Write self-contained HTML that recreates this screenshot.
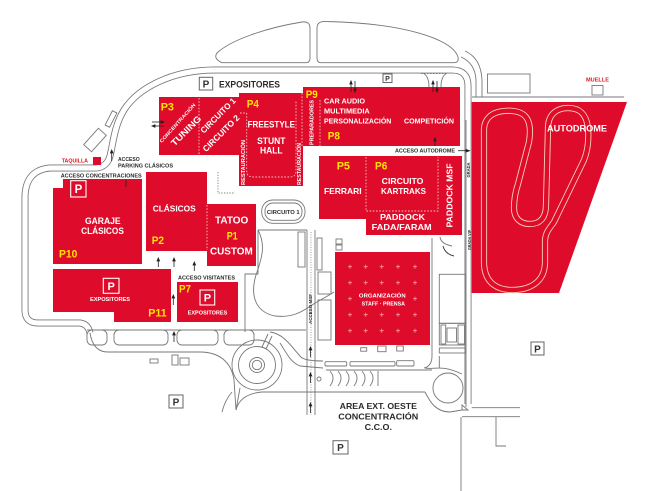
<!DOCTYPE html>
<html><head><meta charset="utf-8"><style>
html,body{margin:0;padding:0;background:#fff;}
svg{display:block;}
text{font-family:"Liberation Sans",sans-serif;font-weight:bold;}
</style></head><body>
<svg width="650" height="491" viewBox="0 0 650 491" xmlns="http://www.w3.org/2000/svg">
<rect width="650" height="491" fill="#fff"/>

<!-- ROADS (double line via stroke trick) -->
<g fill="none" stroke-linejoin="round" stroke-linecap="butt">
<path id="mainroad" d="M468,404 L468,86 Q468,70 452,70 L215,70 C172,70 138,88 124,110 C114,126 113,145 110,156 Q107,167 96,168 L50,168 Q26,170 25,196 L25,310 Q25,323 38,323 L80,323 Q88,324 90,333" stroke="#777" stroke-width="7"/>
<path d="M468,404 L468,86 Q468,70 452,70 L215,70 C172,70 138,88 124,110 C114,126 113,145 110,156 Q107,167 96,168 L50,168 Q26,170 25,196 L25,310 Q25,323 38,323 L80,323 Q88,324 90,333" stroke="#fff" stroke-width="5.3"/>
</g>

<g fill="none" stroke="#777" stroke-width="0.9">
<!-- top lots -->
<path d="M222,62.7 L306,62.7 Q310,62.7 310,58 L310,28 Q310,21 302,22 C265,28 232,40 218,52 Q212,58 222,62.7 Z"/>
<path d="M321,62.7 L454,62.7 Q459,62.7 458,57 C452,38 400,23 326,21.5 Q317,21 317,28 L317,58 Q317,62.7 321,62.7 Z"/>
<!-- top right road branch -->
<path d="M476,97 L476,80 Q475,63 461,57"/>
<path d="M482,97 L482,80 Q481,58 465,51"/>
<path d="M472,97 L624,97"/>
<rect x="487.5" y="74" width="42.5" height="19"/>
<rect x="592" y="85.5" width="11" height="9.5"/>
<!-- entry curves at P8 top -->
<path d="M423,73 Q429,76 429,87"/>
<path d="M447,73 Q441,76 441,87"/>
<path d="M421,73.5 L448,73.5" stroke-dasharray="1.5 1.5"/>
<!-- taquilla rotated rects -->
<rect x="-2.5" y="-8" width="5" height="16" transform="translate(111,119) rotate(27)"/>
<rect x="-5.3" y="-11" width="10.6" height="22" transform="translate(95,140) rotate(42)"/>
<!-- dotted L near P4 -->
<path d="M218,172 L218,193 L235,193" stroke-dasharray="1.2 1.5"/>

<!-- bay row bottom left -->
<path d="M87,330 L255,330"/>
<rect x="87" y="330" width="20" height="15" rx="5"/>
<rect x="114" y="330" width="54" height="15" rx="5"/>
<rect x="177" y="330" width="41" height="15" rx="5"/>
<rect x="224" y="330" width="30" height="15" rx="5"/>
<path d="M90,333 Q93,352 108,352 L200,352 C222,352 232,365 234,380 L236,410"/>
<path d="M236,410 Q240,394 262,392 L425,392"/>
<rect x="150" y="359" width="8" height="4"/>
<rect x="172" y="355" width="6" height="10"/>
<rect x="180" y="358" width="9" height="7"/>

<!-- roundabout 1 -->
<circle cx="257" cy="365" r="25"/>
<circle cx="257" cy="365" r="18.5"/>
<circle cx="257" cy="365" r="7.5"/>
<circle cx="257" cy="365" r="4.7"/>
<path d="M262,347 L268,334"/>
<path d="M266,349 L272,336"/>
<path d="M245,330 L306,330"/>
<path d="M270,332 C285,334 292,348 301,357 Q305,361 323,361"/>
<path d="M280,343 C286,352 290,362 300,366 L323,368"/>
<path d="M240,388 L236,410"/>
<path d="M232,392 Q225,400 222,412"/>
<!-- east road bays -->
<path d="M326,370 L432,370"/>
<path d="M330,371 Q336,378 330,386 M338,371 Q344,378 338,386 M346,371 Q352,378 346,386 M354,371 Q360,378 354,386 M362,371 Q368,378 362,386 M370,371 Q376,378 370,386"/>
<path d="M378,371 L378,386"/>
<circle cx="319" cy="379" r="2"/>

<!-- roundabout 2 -->
<circle cx="448" cy="388" r="15"/>
<path d="M425,368 C436,370 440,364 462,374"/>
<path d="M425,392 C430,402 436,412 450,412 L462,410"/>
<path d="M462,416.7 L520,416.7"/>
<path d="M471.7,407.7 L520,407.7"/>
<path d="M462,405 L468,410 L462,410 Z"/>
<path d="M461,417 L461,491"/>
<path d="M496,417 L496,446 L506,446"/>

<!-- acceso msf road -->
<path d="M307,230 L307,415"/>
<path d="M315,230 L315,415"/>
<path d="M311,232 L311,415" stroke-dasharray="1 1.5" stroke-width="0.7"/>
<!-- blob -->
<path d="M258,230 L307,230"/>
<path d="M258,230 C266,245 262,258 256,275 C250,295 255,312 275,316 C292,318 302,312 312,305 C320,300 328,296 334,292"/>
<path d="M258,230 L258,274 L245,274 L245,332"/>
<rect x="298" y="232" width="7" height="35"/>
<rect x="317" y="238" width="5" height="32"/>
<rect x="318" y="272" width="13" height="22"/>
<rect x="318" y="300" width="13" height="40"/>
<rect x="336" y="239" width="6" height="5"/>
<rect x="336" y="245" width="6" height="5"/>
<!-- circuito 1 -->
<rect x="261.7" y="200" width="43.3" height="23.3" rx="11"/>
<rect x="265" y="203" width="37" height="17.3" rx="8"/>
<!-- below organizacion -->
<rect x="360.7" y="347.7" width="6" height="3.5"/>
<rect x="377.7" y="346" width="8.3" height="5.7"/>
<rect x="396.7" y="346" width="6.6" height="5"/>
<rect x="325" y="361.7" width="21.7" height="4.3" rx="1"/>
<rect x="350" y="361.7" width="45" height="4.3" rx="1"/>
<rect x="396.7" y="360.7" width="17.3" height="5.3" rx="1"/>
<!-- right of organizacion -->
<path d="M432,238 L432,356 Q432,366 424,368"/>
<path d="M440,237 Q441,244 452,246"/>
<path d="M443,246 Q445,254 454,256" stroke="#333"/>
<rect x="439.3" y="274.3" width="26.4" height="49"/>
<rect x="439.3" y="323.3" width="26.4" height="21.7"/>
<rect x="441" y="325" width="4.7" height="19"/>
<rect x="447" y="328" width="9.5" height="14"/>
<rect x="458" y="325" width="6.5" height="19"/>
<rect x="439.3" y="348" width="26.4" height="5"/>
<path d="M439.3,356 L439.3,368"/>
<path d="M466,120 L466,407"/>
</g>

<!-- RED BLOCKS -->
<g fill="#df0b2a">
<rect x="159" y="97" width="81" height="58"/>
<rect x="239" y="93" width="64" height="93"/>
<rect x="303" y="87" width="157" height="59"/>
<path d="M319,156 L462,156 L462,235 L366,235 L366,219 L319,219 Z"/>
<rect x="335" y="252" width="95" height="93"/>
<path d="M471.7,102 L627,102 L559,293 L471.7,293 Z"/>
<path d="M63,179 L142,179 L142,264 L53,264 L53,188 L63,188 Z"/>
<rect x="146" y="172" width="61" height="79"/>
<rect x="207" y="204" width="49" height="62"/>
<path d="M53,269 L171,269 L171,322 L114,322 L114,312 L53,312 Z"/>
<rect x="177" y="282" width="61" height="40"/>
<rect x="93" y="157" width="8" height="8"/>
</g>

<!-- autodrome track -->
<g fill="none" stroke-linejoin="round">
<path d="M484,130 L484,262 C484,285 500,290 512,290 C530,290 545,282 545,262 L545,242 C545,232 550,228 554,222 L584,160 C588,150 589,140 588,128 C586,112 578,108 568,108 C556,108 548,115 548,128 L546,205 C546,218 540,224 530,224 C520,224 514,218 514,208 C514,198 516,190 518,184 L529,142 C531,130 530,120 524,115 C518,110 506,110 498,112 C488,115 484,122 484,130 Z" stroke="#f6d2b4" stroke-width="6.2"/>
<path d="M484,130 L484,262 C484,285 500,290 512,290 C530,290 545,282 545,262 L545,242 C545,232 550,228 554,222 L584,160 C588,150 589,140 588,128 C586,112 578,108 568,108 C556,108 548,115 548,128 L546,205 C546,218 540,224 530,224 C520,224 514,218 514,208 C514,198 516,190 518,184 L529,142 C531,130 530,120 524,115 C518,110 506,110 498,112 C488,115 484,122 484,130 Z" stroke="#df0b2a" stroke-width="4.4"/>
</g>

<!-- dashed lines inside blocks -->
<g fill="none" stroke="#f7c2c2" stroke-width="0.9" stroke-dasharray="1.6 1.6">
<path d="M199,98 L199,155"/>
<path d="M246.7,113 L246.7,171 Q246.7,177 253,177 L290,177 Q296,177 296,171 L296,100"/>
<path d="M240,113 L246.7,113"/>
<path d="M302,90 L302,146"/>
<path d="M320,100 L320,146"/>
<path d="M366,157 L366,211 L438,211 L438,157"/>
<path d="M207,205 L207,250"/>
</g>

<!-- plus signs in organizacion -->
<g stroke="#f59aa3" stroke-width="0.8">
<path d="M348,266.7h4M350,264.7v4 M363.7,266.7h4M365.7,264.7v4 M379.7,266.7h4M381.7,264.7v4 M396,266.7h4M398,264.7v4 M413,266.7h4M415,264.7v4"/>
<path d="M348,282.7h4M350,280.7v4 M363.7,282.7h4M365.7,280.7v4 M379.7,282.7h4M381.7,280.7v4 M396,282.7h4M398,280.7v4 M413,282.7h4M415,280.7v4"/>
<path d="M348,298.7h4M350,296.7v4 M413,298.7h4M415,296.7v4"/>
<path d="M348,314.7h4M350,312.7v4 M363.7,314.7h4M365.7,312.7v4 M379.7,314.7h4M381.7,312.7v4 M396,314.7h4M398,312.7v4 M413,314.7h4M415,312.7v4"/>
<path d="M348,330.7h4M350,328.7v4 M363.7,330.7h4M365.7,328.7v4 M379.7,330.7h4M381.7,328.7v4 M396,330.7h4M398,328.7v4 M413,330.7h4M415,328.7v4"/>
</g>

<!-- P boxes gray -->
<g fill="#fff" stroke="#666" stroke-width="1">
<rect x="199.3" y="77.3" width="13.4" height="12.7"/>
<rect x="383" y="74" width="9" height="8.5"/>
<rect x="169" y="395" width="14" height="13"/>
<rect x="333" y="440.7" width="15" height="13.3"/>
<rect x="531" y="342" width="13" height="13"/>
</g>
<g fill="#333" text-anchor="middle">
<text x="206" y="87.6" font-size="10">P</text>
<text x="387.5" y="81" font-size="7">P</text>
<text x="176" y="405.3" font-size="10">P</text>
<text x="340.5" y="451.2" font-size="10">P</text>
<text x="537.5" y="352.3" font-size="10">P</text>
</g>
<!-- P boxes white -->
<g fill="none" stroke="#fff" stroke-width="1.1">
<rect x="70.7" y="180.7" width="15.3" height="16.3"/>
<rect x="103.3" y="278.3" width="15.7" height="15"/>
<rect x="200" y="290" width="14.7" height="15"/>
</g>
<g fill="#fff" text-anchor="middle">
<text x="78.4" y="193" font-size="11.5">P</text>
<text x="111.2" y="290" font-size="11">P</text>
<text x="207.4" y="301.7" font-size="11">P</text>
</g>

<!-- arrows -->
<g stroke="#222" stroke-width="0.8" fill="#222">
<path d="M158.3,267 V260"/><path d="M157,261 L158.3,258 L159.6,261Z"/>
<path d="M174,267 V260"/><path d="M172.7,261 L174,258 L175.3,261Z"/>
<path d="M194.3,271 V264"/><path d="M193,265 L194.3,262 L195.6,265Z"/>
<path d="M173.3,305 V297"/><path d="M172,298 L173.3,295 L174.6,298Z"/>
<path d="M111.7,161 V152"/><path d="M110.4,153 L111.7,150 L113,153Z"/>
<path d="M174,342 V334"/><path d="M172.7,335 L174,332 L175.3,335Z"/>
<path d="M310.5,357 V349"/><path d="M309.2,350 L310.5,347 L311.8,350Z"/>
<path d="M310.5,383 V375"/><path d="M309.2,376 L310.5,373 L311.8,376Z"/>
<path d="M310.5,413 V405"/><path d="M309.2,406 L310.5,403 L311.8,406Z"/>
<path d="M126,180 V187"/>
<path d="M435,146 V140"/><path d="M433.8,141 L435,138 L436.2,141Z"/>
<path d="M458,150.7 H467"/><path d="M466,149.4 L469.5,150.7 L466,152Z"/>
<path d="M152,122 H162"/><path d="M161,120.7 L164,122 L161,123.3Z"/>
<path d="M154,126 H164"/><path d="M155,124.7 L152,126 L155,127.3Z"/>
<path d="M351,92 V83"/><path d="M349.8,84 L351,81 L352.2,84Z"/>
<path d="M355,81 V90"/><path d="M353.8,89 L355,92 L356.2,89Z"/>
<path d="M433,92 V83"/><path d="M431.8,84 L433,81 L434.2,84Z"/>
<path d="M437,81 V90"/><path d="M435.8,89 L437,92 L438.2,89Z"/>
</g>

<!-- yellow P labels -->
<g fill="#ffe500" font-size="11" lengthAdjust="spacingAndGlyphs">
<text x="160.7" y="110.7" textLength="13.3" lengthAdjust="spacingAndGlyphs">P3</text>
<text x="246.7" y="107.3" textLength="12.3" lengthAdjust="spacingAndGlyphs">P4</text>
<text x="305.7" y="98" textLength="12" lengthAdjust="spacingAndGlyphs">P9</text>
<text x="327.7" y="139.7" textLength="12.3" lengthAdjust="spacingAndGlyphs">P8</text>
<text x="336.7" y="169.7" textLength="13.3" lengthAdjust="spacingAndGlyphs">P5</text>
<text x="375" y="169.7" textLength="12.3" lengthAdjust="spacingAndGlyphs">P6</text>
<text x="59" y="257.3" textLength="18.3" lengthAdjust="spacingAndGlyphs">P10</text>
<text x="151.7" y="244" textLength="12.3" lengthAdjust="spacingAndGlyphs">P2</text>
<text x="226.7" y="239.7" textLength="11" lengthAdjust="spacingAndGlyphs">P1</text>
<text x="148.3" y="316.7" textLength="18.3" lengthAdjust="spacingAndGlyphs">P11</text>
<text x="179" y="292.3" textLength="12" lengthAdjust="spacingAndGlyphs">P7</text>
</g>

<!-- white labels -->
<g fill="#fff">
<text transform="translate(177.5,123) rotate(-48)" text-anchor="middle" y="1.7" font-size="4.8" textLength="51" lengthAdjust="spacingAndGlyphs">CONCENTRACIÓN</text>
<text transform="translate(186,130.7) rotate(-45)" text-anchor="middle" y="3.2" font-size="9" textLength="38.7" lengthAdjust="spacingAndGlyphs">TUNING</text>
<text transform="translate(218,115.5) rotate(-45)" text-anchor="middle" y="3" font-size="8.5" textLength="46" lengthAdjust="spacingAndGlyphs">CIRCUITO 1</text>
<text transform="translate(221,133.3) rotate(-45)" text-anchor="middle" y="3" font-size="8.5" textLength="48" lengthAdjust="spacingAndGlyphs">CIRCUITO 2</text>
<text transform="translate(243.3,162.5) rotate(-90)" text-anchor="middle" y="1.8" font-size="5" textLength="45" lengthAdjust="spacingAndGlyphs">RESTAURACIÓN</text>
<text transform="translate(299.3,164) rotate(-90)" text-anchor="middle" y="1.8" font-size="5" textLength="42" lengthAdjust="spacingAndGlyphs">RESTAURACIÓN</text>
<text transform="translate(311.5,122.5) rotate(-90)" text-anchor="middle" y="1.8" font-size="5" textLength="45" lengthAdjust="spacingAndGlyphs">PREPARADORES</text>
<text x="271.3" y="127.6" text-anchor="middle" font-size="9" textLength="47.3" lengthAdjust="spacingAndGlyphs">FREESTYLE</text>
<text x="271.3" y="144.2" text-anchor="middle" font-size="9" textLength="28.3" lengthAdjust="spacingAndGlyphs">STUNT</text>
<text x="271.3" y="153.3" text-anchor="middle" font-size="9" textLength="22.7" lengthAdjust="spacingAndGlyphs">HALL</text>
<text x="324" y="103.6" font-size="7" textLength="41" lengthAdjust="spacingAndGlyphs">CAR AUDIO</text>
<text x="324" y="113.6" font-size="7" textLength="45.7" lengthAdjust="spacingAndGlyphs">MULTIMEDIA</text>
<text x="324" y="123.6" font-size="7" textLength="67.3" lengthAdjust="spacingAndGlyphs">PERSONALIZACIÓN</text>
<text x="404" y="123.6" font-size="7" textLength="50" lengthAdjust="spacingAndGlyphs">COMPETICIÓN</text>
<text x="342.8" y="193.8" text-anchor="middle" font-size="8.5" textLength="37.7" lengthAdjust="spacingAndGlyphs">FERRARI</text>
<text x="381.7" y="183.8" font-size="8.5" textLength="41.7" lengthAdjust="spacingAndGlyphs">CIRCUITO</text>
<text x="381" y="193.8" font-size="8.5" textLength="45" lengthAdjust="spacingAndGlyphs">KARTRAKS</text>
<text x="380" y="219.8" font-size="8.5" textLength="45" lengthAdjust="spacingAndGlyphs">PADDOCK</text>
<text x="371.7" y="229.8" font-size="8.5" textLength="60" lengthAdjust="spacingAndGlyphs">FADA/FARAM</text>
<text transform="translate(449.5,195.5) rotate(-90)" text-anchor="middle" y="3" font-size="8.5" textLength="64" lengthAdjust="spacingAndGlyphs">PADDOCK MSF</text>
<text x="382.3" y="297.3" text-anchor="middle" font-size="5.5" textLength="46.7" lengthAdjust="spacingAndGlyphs">ORGANIZACIÓN</text>
<text x="383.3" y="305.3" text-anchor="middle" font-size="5.5" textLength="43.3" lengthAdjust="spacingAndGlyphs">STAFF · PRENSA</text>
<text x="102.8" y="224" text-anchor="middle" font-size="9.5" textLength="35.7" lengthAdjust="spacingAndGlyphs">GARAJE</text>
<text x="102.5" y="234" text-anchor="middle" font-size="9.5" textLength="42.7" lengthAdjust="spacingAndGlyphs">CLÁSICOS</text>
<text x="152.7" y="211.4" font-size="8.5" textLength="43" lengthAdjust="spacingAndGlyphs">CLÁSICOS</text>
<text x="215" y="223.6" font-size="10" textLength="33.3" lengthAdjust="spacingAndGlyphs">TATOO</text>
<text x="210" y="254.6" font-size="10" textLength="42.7" lengthAdjust="spacingAndGlyphs">CUSTOM</text>
<text x="110" y="301" text-anchor="middle" font-size="5.3" textLength="40" lengthAdjust="spacingAndGlyphs">EXPOSITORES</text>
<text x="207.5" y="314.3" text-anchor="middle" font-size="5.3" textLength="39.7" lengthAdjust="spacingAndGlyphs">EXPOSITORES</text>
<text x="547" y="131.5" font-size="9" textLength="60" lengthAdjust="spacingAndGlyphs">AUTODROME</text>
</g>

<!-- dark labels -->
<g fill="#2a2a2a">
<text x="219" y="87.4" font-size="9.5" textLength="61" lengthAdjust="spacingAndGlyphs">EXPOSITORES</text>
<text x="395" y="152.6" font-size="5.3" textLength="60" lengthAdjust="spacingAndGlyphs">ACCESO AUTODROME</text>
<text x="118" y="161" font-size="5.5" textLength="21.7" lengthAdjust="spacingAndGlyphs">ACCESO</text>
<text x="118" y="167.7" font-size="5.5" textLength="55" lengthAdjust="spacingAndGlyphs">PARKING CLÁSICOS</text>
<text x="60.7" y="177.7" font-size="5.5" textLength="81" lengthAdjust="spacingAndGlyphs">ACCESO CONCENTRACIONES</text>
<text x="178" y="279.3" font-size="5.5" textLength="57" lengthAdjust="spacingAndGlyphs">ACCESO VISITANTES</text>
<text x="283.3" y="214" text-anchor="middle" font-size="5.5" textLength="32.7" lengthAdjust="spacingAndGlyphs">CIRCUITO 1</text>
<text transform="translate(468.5,170) rotate(-90)" text-anchor="middle" y="1.6" font-size="4.5" textLength="15" lengthAdjust="spacingAndGlyphs">GRADA</text>
<text transform="translate(469.5,240) rotate(-90)" text-anchor="middle" y="1.6" font-size="4.5" textLength="20" lengthAdjust="spacingAndGlyphs">GRADA VIP</text>
<text transform="translate(310.5,309) rotate(-90)" text-anchor="middle" y="1.6" font-size="4.5" textLength="30" lengthAdjust="spacingAndGlyphs">ACCESO MSF</text>
<text x="378.3" y="409" text-anchor="middle" font-size="8.5" textLength="77.3" lengthAdjust="spacingAndGlyphs">AREA EXT. OESTE</text>
<text x="378.3" y="419.7" text-anchor="middle" font-size="8.5" textLength="80" lengthAdjust="spacingAndGlyphs">CONCENTRACIÓN</text>
<text x="378.3" y="430" text-anchor="middle" font-size="8.5" textLength="27.3" lengthAdjust="spacingAndGlyphs">C.C.O.</text>
</g>
<g fill="#e4141c">
<text x="61.7" y="162.6" font-size="5.3" textLength="26.3" lengthAdjust="spacingAndGlyphs">TAQUILLA</text>
<text x="586" y="81.3" font-size="5.5" textLength="23" lengthAdjust="spacingAndGlyphs">MUELLE</text>
</g>
</svg>
</body></html>
